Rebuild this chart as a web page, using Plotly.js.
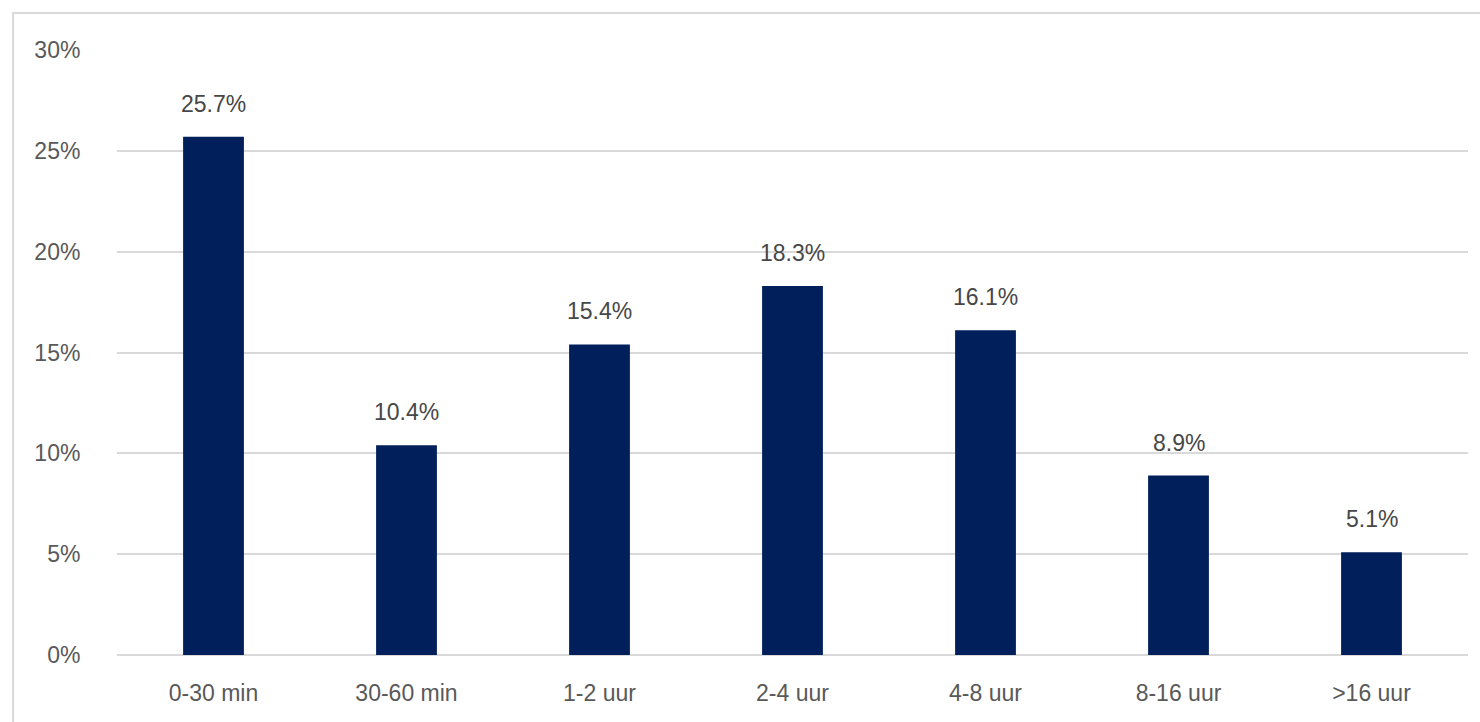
<!DOCTYPE html>
<html>
<head>
<meta charset="utf-8">
<script src="https://cdn.plot.ly/plotly-3.0.1.min.js"></script>
<style>
html,body{margin:0;padding:0;background:#fff;}
#wrap{position:relative;width:1480px;height:722px;overflow:hidden;}
#chart{position:absolute;left:0;top:0;width:1480px;height:722px;}
#frame{position:absolute;left:12px;top:12px;width:1500px;height:760px;border:2px solid #d9d9d9;box-sizing:border-box;pointer-events:none;}
</style>
</head>
<body>
<div id="wrap"><div id="chart"></div><div id="frame"></div></div>
<script>
const categories = ["0-30 min", "30-60 min", "1-2 uur", "2-4 uur", "4-8 uur", "8-16 uur", ">16 uur"];
const values = [25.7, 10.4, 15.4, 18.3, 16.1, 8.9, 5.1];
const valueLabels = ["25.7%", "10.4%", "15.4%", "18.3%", "16.1%", "8.9%", "5.1%"];
const yTickVals = [0, 5, 10, 15, 20, 25, 30];
const yTickText = ["0%", "5%", "10%", "15%", "20%", "25%", "30%"];

const FONT = "Liberation Sans, Arial, sans-serif";

const trace = {
  type: "bar",
  x: categories,
  y: values,
  marker: {color: "#001f5b"},
  hoverinfo: "x+y"
};

const annotations = categories.map((c, i) => ({
  x: c, y: values[i], text: valueLabels[i],
  xref: "x", yref: "y", showarrow: false,
  yanchor: "bottom", yshift: 18,
  font: {family: FONT, size: 23, color: "#474747"}
}));

const layout = {
  width: 1480, height: 722,
  margin: {l: 117, r: 12, t: 50, b: 67},
  paper_bgcolor: "#ffffff",
  plot_bgcolor: "#ffffff",
  showlegend: false,
  bargap: 0.685,
  xaxis: {
    type: "category",
    showgrid: false, zeroline: false, showline: false,
    ticks: "outside", ticklen: 17, tickcolor: "rgba(0,0,0,0)",
    tickfont: {family: FONT, size: 23, color: "#595959"}
  },
  yaxis: {
    range: [0, 30],
    tickvals: yTickVals, ticktext: yTickText,
    showgrid: true, gridcolor: "#d9d9d9", gridwidth: 2,
    zeroline: true, zerolinecolor: "#d9d9d9", zerolinewidth: 2,
    showline: false,
    ticks: "outside", ticklen: 31, tickcolor: "rgba(0,0,0,0)",
    tickfont: {family: FONT, size: 23, color: "#595959"}
  },
  annotations: annotations
};

Plotly.newPlot("chart", [trace], layout, {displayModeBar: false, staticPlot: true});
</script>
</body>
</html>
